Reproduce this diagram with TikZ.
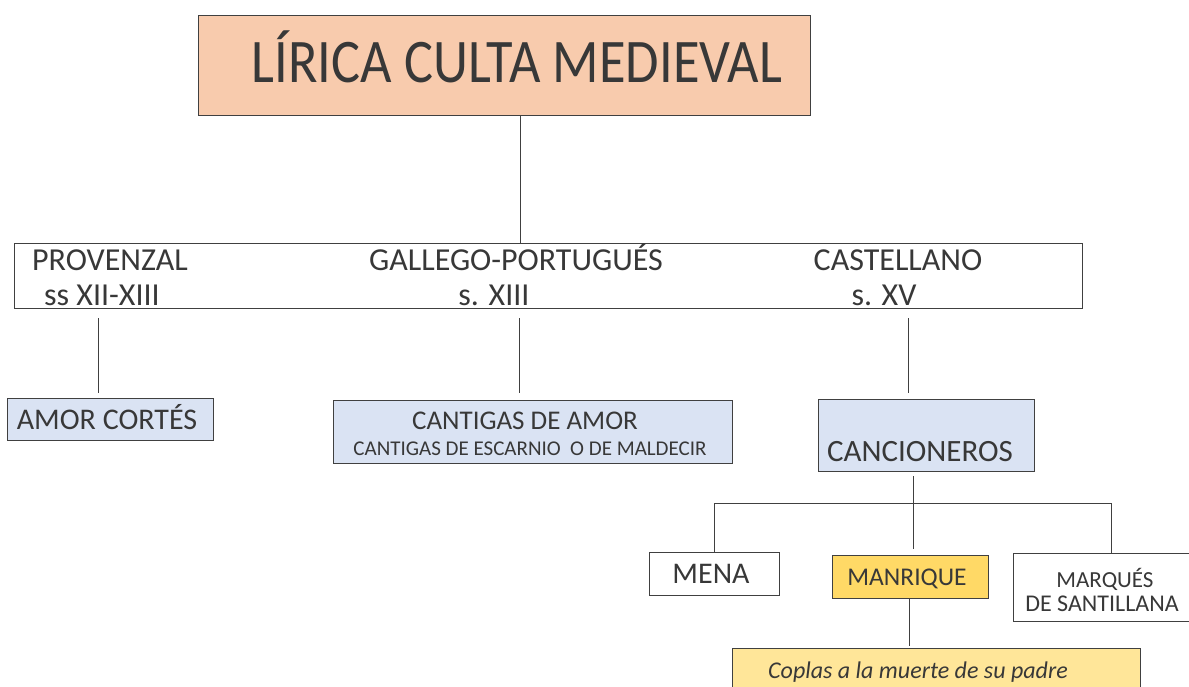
\documentclass[tikz,border=0pt]{standalone}
\usepackage{graphicx}
\usepackage{fontspec}
\setmainfont{Carlito}
\definecolor{peach}{HTML}{F8CBAD}
\definecolor{paleblue}{HTML}{DAE3F3}
\definecolor{gold}{HTML}{FFD966}
\definecolor{lightgold}{HTML}{FFE699}
\definecolor{ink}{HTML}{383838}
\definecolor{edge}{HTML}{404040}
\tikzset{
  box/.style={draw=edge, line width=1.1pt, inner sep=0pt, anchor=north west, text=ink},
  lbl/.style={inner sep=0pt, text=ink, align=center, anchor=base},
  conn/.style={draw=edge, line width=1pt}
}
\newcommand{\fsz}[1]{\fontsize{#1}{#1}\selectfont}
\begin{document}
\begin{tikzpicture}[x=1pt,y=-1pt]
\useasboundingbox (0,0) rectangle (1189,686);
% title
\node[box, fill=peach, minimum width=612pt, minimum height=100pt] (title) at (198,15) {};
\node[lbl, font=\fsz{62}] (titletext) at (517,82) {\scalebox{0.877}[1]{LÍRICA CULTA MEDIEVAL}};
% middle band
\node[box, fill=white, minimum width=1068pt, minimum height=65pt] (band) at (14,243) {};
\node[lbl, font=\fsz{32}] (prov) at (110,270) {PROVENZAL};
\node[lbl, font=\fsz{32}] (provs) at (102,305) {ss XII-XIII};
\node[lbl, font=\fsz{32}] (gal) at (516,270) {GALLEGO-PORTUGUÉS};
\node[lbl, font=\fsz{32}] (gals) at (494,305) {s. XIII};
\node[lbl, font=\fsz{32}] (cas) at (898,270) {CASTELLANO};
\node[lbl, font=\fsz{32}] (cass) at (884,305) {s. XV};
% second level
\node[box, fill=paleblue, minimum width=206pt, minimum height=42pt] (amor) at (7,398) {};
\node[lbl, font=\fsz{30}] (amortext) at (107,429) {AMOR CORTÉS};
\node[box, fill=paleblue, minimum width=399pt, minimum height=63pt] (cant) at (333,400) {};
\node[lbl, font=\fsz{27}] (canttext) at (525,429) {CANTIGAS DE AMOR};
\node[lbl, font=\fsz{21}] (cantsub) at (530,455) {CANTIGAS DE ESCARNIO\ \ O DE MALDECIR};
\node[box, fill=paleblue, minimum width=216pt, minimum height=72pt] (canc) at (818,399) {};
\node[lbl, font=\fsz{31}] (canctext) at (920,461) {CANCIONEROS};
% third level
\node[box, fill=white, minimum width=130pt, minimum height=43pt] (mena) at (649,552) {};
\node[lbl, font=\fsz{30}] (menatext) at (711,583) {MENA};
\node[box, fill=gold, minimum width=156pt, minimum height=43pt] (manr) at (832,555) {};
\node[lbl, font=\fsz{25.5}] (manrtext) at (907,585) {MANRIQUE};
\node[box, fill=white, minimum width=180pt, minimum height=68pt] (marq) at (1013,553) {};
\node[lbl, font=\fsz{23}] (marqtext) at (1105,587) {MARQUÉS};
\node[lbl, font=\fsz{24}] (marqtext2) at (1102,611) {DE SANTILLANA};
\node[box, fill=lightgold, minimum width=408pt, minimum height=50pt] (coplas) at (732,648) {};
\node[lbl, font=\fsz{24}\itshape, anchor=base west] (coplastext) at (768,678) {Coplas a la muerte de su padre};
% connector x-positions
\coordinate (xg) at (520,0);
\coordinate (xp) at (98,0);
\coordinate (xgal) at (519,0);
\coordinate (xc) at (908,0);
\coordinate (xk) at (913,0);
\coordinate (xm) at (714,0);
\coordinate (xs) at (1111,0);
\coordinate (xmr) at (909,0);
\coordinate (hub) at (913,503);
% connectors
\draw[conn] (title.south -| xg) -- (band.north -| xg);
\draw[conn, shorten <=9pt, shorten >=5pt] (band.south -| xp) -- (amor.north -| xp);
\draw[conn, shorten <=9pt, shorten >=7pt] (band.south -| xgal) -- (cant.north -| xgal);
\draw[conn, shorten <=9pt, shorten >=6pt] (band.south -| xc) -- (canc.north -| xc);
\draw[conn, shorten <=4pt, shorten >=6pt] (canc.south -| xk) -- (manr.north -| xk);
\draw[conn] (mena.north -| xm) -- (hub -| xm) -- (hub -| xs) -- (marq.north -| xs);
\draw[conn, shorten >=2pt] (manr.south -| xmr) -- (coplas.north -| xmr);
\end{tikzpicture}
\end{document}
